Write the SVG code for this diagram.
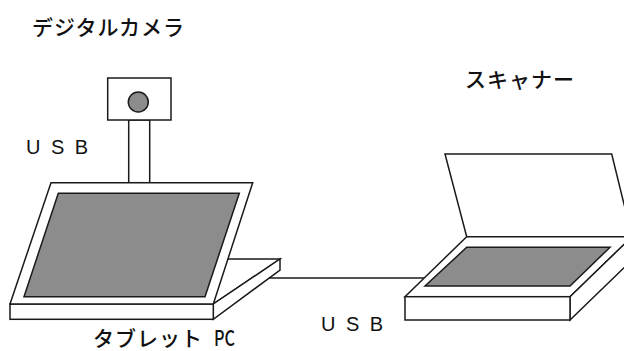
<svg xmlns="http://www.w3.org/2000/svg" width="624" height="351" viewBox="0 0 624 351">
  <style>
    .ln { fill: #ffffff; stroke: #1a1a1a; stroke-width: 1.5; stroke-linejoin: miter; }
    .gl { fill: #8c8c8c; stroke: #1a1a1a; stroke-width: 1.5; }
    .wire { fill: none; stroke: #1a1a1a; stroke-width: 1.4; }
    .jp { font-family: "Noto Sans CJK JP", "Noto Sans", sans-serif; font-size: 21px; font-weight: 500; fill: #111111; letter-spacing: 1px; }
    .usb { font-family: "Liberation Sans", Arial, sans-serif; font-size: 20px; fill: #111111; letter-spacing: 10.5px; }
  </style>

  <rect width="624" height="351" fill="#ffffff"/>

  <!-- cable between tablet and scanner -->
  <g id="connectors">
    <line class="wire" x1="260" y1="278" x2="424" y2="278"/>
  </g>

  <!-- digital camera on its post -->
  <g id="camera">
    <rect class="ln" x="128.7" y="120" width="21" height="62.7"/>
    <rect class="ln" x="107.7" y="78" width="63.3" height="42"/>
    <circle class="gl" cx="138.3" cy="102" r="10"/>
    <text class="jp" x="32" y="35">デジタルカメラ</text>
    <text class="usb" x="26" y="154">USB</text>
  </g>

  <!-- tablet PC with stand -->
  <g id="tablet">
    <!-- stand behind the display -->
    <polygon class="ln" points="200,259 280,259 213.3,304 200,304"/>
    <polygon class="ln" points="280,259 280,270 213.3,319.3 213.3,304"/>
    <!-- display -->
    <rect class="ln" x="10" y="304" width="203.3" height="15.3"/>
    <polygon class="ln" points="51,182.7 252.7,182.7 213.3,304 10,304"/>
    <polygon class="gl" points="58.3,193.3 239.3,193.3 205,296.7 24,296.7"/>
    <text class="jp" x="93" y="346">タブレット<tspan x="214" letter-spacing="0" textLength="21" lengthAdjust="spacingAndGlyphs">PC</tspan></text>
  </g>

  <!-- flatbed scanner with open lid -->
  <g id="scanner">
    <polygon class="ln" points="445,154 611.7,154 632,236.7 466.7,236.7"/>
    <polygon class="ln" points="466.7,236.7 632,236.7 570,296.7 405,296.7"/>
    <polygon class="ln" points="570,296.7 632,236.7 632,260 570,320"/>
    <rect class="ln" x="405" y="296.7" width="165" height="23.3"/>
    <polygon class="gl" points="466.7,247.3 610,247.3 570,286 425,286"/>
    <text class="jp" x="465" y="87">スキャナー</text>
    <text class="usb" x="321" y="331">USB</text>
  </g>
</svg>
